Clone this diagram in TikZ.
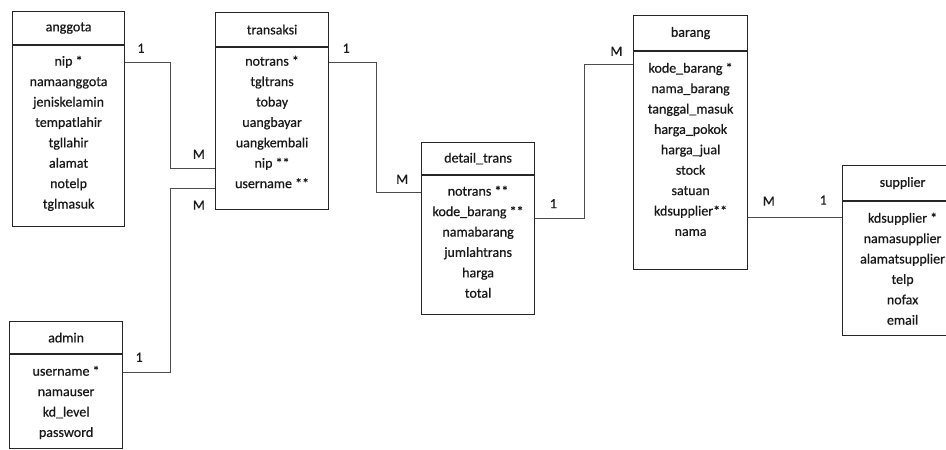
\documentclass[tikz,border=0pt]{standalone}
\usepackage{fontspec}
\setmainfont{Carlito}[FakeBold=0.6]
\usetikzlibrary{positioning}
\def\rowsep{20.4pt}

\begin{document}
\begin{tikzpicture}[x=1pt,y=-1pt,font=\fontsize{14}{17}\selectfont,text=black!90]
    \tikzstyle{head}=[draw=black!85, line width=1.2pt, minimum height=33pt, inner sep=0pt, anchor=north west]
    \tikzstyle{body}=[draw=black!85, line width=1.2pt, inner sep=0pt]
    \tikzstyle{attr}=[inner sep=0pt, text height=10pt, text depth=3pt]
    \tikzstyle{link}=[draw=black!70, line width=0.9pt]
    \tikzstyle{card}=[inner sep=1pt, text height=9.5pt, text depth=0pt]

    \useasboundingbox (0,0) rectangle (946,450);

    % Draw the anggota table
    \node[head, minimum width=112pt] (anggota) at (12,11) {anggota};
    \node[body, minimum width=112pt, minimum height=181pt, below=0pt of anggota] (anggota-body) {};
    \foreach \a [count=\i] in {nip *,namaanggota,jeniskelamin,tempatlahir,tgllahir,alamat,notelp,tglmasuk}
        \node[attr] (anggota-\i) at ([yshift={-17pt-(\i-1)*\rowsep}]anggota-body.north) {\a};

    % Draw the admin table
    \node[head, minimum width=113pt, minimum height=32pt] (admin) at (9,321) {admin};
    \node[body, minimum width=113pt, minimum height=94pt, below=0pt of admin] (admin-body) {};
    \foreach \a [count=\i] in {username *,namauser,kd\_level,password}
        \node[attr] (admin-\i) at ([yshift={-18pt-(\i-1)*\rowsep}]admin-body.north) {\a};

    % Draw the transaksi table
    \node[head, minimum width=113pt, minimum height=34pt] (transaksi) at (215,12) {transaksi};
    \node[body, minimum width=113pt, minimum height=162pt, below=0pt of transaksi] (transaksi-body) {};
    \foreach \a [count=\i] in {notrans *,tgltrans,tobay,uangbayar,uangkembali,nip **,username **}
        \node[attr] (transaksi-\i) at ([yshift={-15pt-(\i-1)*\rowsep}]transaksi-body.north) {\a};

    % Draw the detail_trans table
    \node[head, minimum width=113pt, minimum height=32pt] (detail) at (421,142) {detail\_trans};
    \node[body, minimum width=113pt, minimum height=139pt, below=0pt of detail] (detail-body) {};
    \foreach \a [count=\i] in {notrans **,kode\_barang **,namabarang,jumlahtrans,harga,total}
        \node[attr] (detail-\i) at ([yshift={-17pt-(\i-1)*\rowsep}]detail-body.north) {\a};

    % Draw the barang table
    \node[head, minimum width=114pt, minimum height=35pt] (barang) at (633,15) {barang};
    \node[body, minimum width=114pt, minimum height=218pt, below=0pt of barang] (barang-body) {};
    \foreach \a [count=\i] in {kode\_barang *,nama\_barang,tanggal\_masuk,harga\_pokok,harga\_jual,stock,satuan,kdsupplier**,nama}
        \node[attr] (barang-\i) at ([yshift={-18pt-(\i-1)*\rowsep}]barang-body.north) {\a};

    % Draw the supplier table
    \node[head, minimum width=120pt, minimum height=35pt] (supplier) at (842,165) {supplier};
    \node[body, minimum width=120pt, minimum height=134pt, below=0pt of supplier] (supplier-body) {};
    \foreach \a [count=\i] in {kdsupplier *,namasupplier,alamatsupplier,telp,nofax,email}
        \node[attr] (supplier-\i) at ([yshift={-18pt-(\i-1)*\rowsep}]supplier-body.north) {\a};

    % Relations (1 - M)
    \draw[link] (anggota-1 -| anggota-body.east)
        -- node[card, above=8pt, pos=0.35] (c-ang) {1} ++(45,0)
        |- node[card, above=8pt, pos=0.82] (c-ang-m) {M} ([yshift=-4pt]transaksi-6.center -| transaksi-body.west);
    \draw[link] (admin-1 -| admin-body.east)
        -- node[card, above=9pt, pos=0.34] (c-adm) {1} ++(47,0)
        |- node[card, below=10pt, pos=0.82] (c-adm-m) {M} ([yshift=-4pt]transaksi-7.center -| transaksi-body.west);
    \draw[link] (transaksi-1 -| transaksi-body.east)
        -- node[card, above=8pt, pos=0.36] (c-trs) {1} ++(47,0)
        |- node[card, above=7pt, pos=0.79] (c-trs-m) {M} (detail-1 -| detail-body.west);
    \draw[link] ([yshift=-6pt]detail-2.center -| detail-body.east)
        -- node[card, above=9pt, pos=0.37] (c-det) {1} ++(49,0)
        |- node[card, above=7pt, pos=0.83] (c-det-m) {M} ([yshift=5pt]barang-1.center -| barang-body.west);
    \draw[link] ([yshift=-5pt]barang-8.center -| barang-body.east)
        -- node[card, above=10pt, pos=0.22] (c-brg-m) {M}
           node[card, above=11pt, pos=0.8] (c-sup) {1}
        ([yshift=-5pt]barang-8.center -| supplier-body.west);
\end{tikzpicture}
\end{document}
